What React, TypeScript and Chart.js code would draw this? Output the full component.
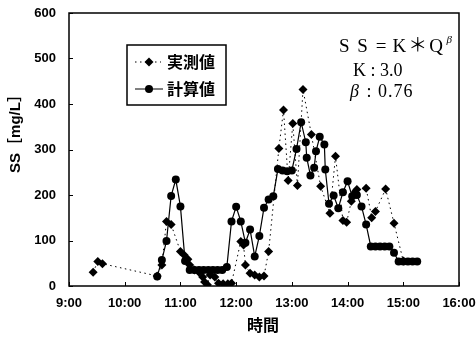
import React, { useEffect, useRef } from "react";
import { Chart, registerables } from "chart.js";

Chart.register(...registerables);

// ---- data ----
const obsTimes = [
  "9:26", "9:31", "9:36", "10:35", "10:40", "10:45", "10:50", "11:00", "11:04", "11:08",
  "11:10", "11:15", "11:20", "11:24", "11:26", "11:29", "11:32", "11:37", "11:41", "11:46",
  "11:51", "11:55", "12:05", "12:08", "12:10", "12:15", "12:20", "12:25", "12:30", "12:35",
  "12:46", "12:51", "12:56", "13:01", "13:06", "13:12", "13:21", "13:31", "13:41", "13:47",
  "13:55", "13:59", "14:04", "14:10", "14:20", "14:26", "14:30", "14:41", "14:50", "15:00",
];
const obsValues = [
  30, 54, 49, 22, 46, 142, 135, 76, 68, 59,
  46, 35, 30, 20, 9, 3, 24, 20, 6, 5,
  5, 6, 98, 90, 46, 28, 24, 20, 22, 76,
  302, 387, 232, 357, 221, 432, 333, 219, 160, 285,
  144, 140, 186, 212, 215, 150, 164, 213, 138, 55,
];

const calcTimes = [
  "10:35", "10:40", "10:45", "10:50", "10:55", "11:00", "11:05", "11:10", "11:15", "11:20",
  "11:25", "11:30", "11:35", "11:40", "11:45", "11:50", "11:55", "12:00", "12:05", "12:10",
  "12:15", "12:20", "12:25", "12:30", "12:35", "12:40", "12:45", "12:50", "12:55", "13:00",
  "13:05", "13:10", "13:15", "13:16", "13:20", "13:24", "13:26", "13:30", "13:35", "13:36",
  "13:40", "13:45", "13:50", "13:55", "14:00", "14:05", "14:08", "14:10", "14:15", "14:20",
  "14:25", "14:30", "14:35", "14:40", "14:45", "14:50", "14:55", "15:00", "15:05", "15:10",
  "15:15",
];
const calcValues = [
  21, 57, 99, 198, 234, 175, 55, 35, 35, 35,
  35, 35, 35, 35, 35, 42, 142, 174, 142, 95,
  124, 65, 110, 172, 190, 197, 257, 254, 252, 254,
  301, 360, 316, 282, 243, 260, 296, 328, 311, 256,
  181, 199, 171, 206, 230, 197, 204, 200, 175, 135,
  87, 87, 87, 87, 87, 73, 54, 54, 54, 54,
  54,
];

const xTickLabels = ["9:00", "10:00", "11:00", "12:00", "13:00", "14:00", "15:00", "16:00"];
const yTickValues = [0, 100, 200, 300, 400, 500, 600];

const seriesNames = ["実測値", "計算値"];
const xTitle = "時間";
const yTitle = "SS［mg/L］";
const formulaMain = "SS=K＊Q";
const formulaSup = "β";
const kLine = "K : 3.0";
const betaSym = "β";
const betaLine = " : 0.76";

const toMin = (t: string) => {
  const [h, m] = t.split(":").map(Number);
  return h * 60 + m;
};

const SANS = "'Liberation Sans', Arial, 'Noto Sans CJK JP', sans-serif";
const SERIF = "'Liberation Serif', 'Times New Roman', 'Noto Sans CJK JP', serif";
const CJK = "'Noto Sans CJK JP', sans-serif";

const overlayPlugin = {
  id: "overlay",
  afterDraw(chart: any) {
    const { ctx, chartArea } = chart;
    const { left, right, top, bottom } = chartArea;
    const xs = chart.scales.x;
    const ys = chart.scales.y;
    ctx.save();
    // frame
    ctx.strokeStyle = "#000";
    ctx.lineWidth = 1.5;
    ctx.strokeRect(left, top, right - left, bottom - top);
    // inward ticks
    ctx.lineWidth = 1;
    ctx.beginPath();
    yTickValues.forEach((v) => {
      const y = Math.round(ys.getPixelForValue(v)) + 0.5;
      ctx.moveTo(left, y);
      ctx.lineTo(left + 4, y);
    });
    xTickLabels.forEach((l) => {
      const x = Math.round(xs.getPixelForValue(toMin(l))) + 0.5;
      ctx.moveTo(x, bottom);
      ctx.lineTo(x, bottom - 4);
    });
    ctx.stroke();

    // legend box
    const lx = left + 58, ly = top + 32, lw = 99, lh = 60;
    ctx.fillStyle = "#fff";
    ctx.fillRect(lx, ly, lw, lh);
    ctx.lineWidth = 1.5;
    ctx.strokeRect(lx, ly, lw, lh);
    const rowY = [ly + 17, ly + 44];
    // entry 1: dotted + diamond
    ctx.lineWidth = 1;
    ctx.setLineDash([1.5, 3.5]);
    ctx.beginPath();
    ctx.moveTo(lx + 8, rowY[0]);
    ctx.lineTo(lx + 34, rowY[0]);
    ctx.stroke();
    ctx.setLineDash([]);
    ctx.fillStyle = "#000";
    const dx = lx + 22, r = 4.5;
    ctx.beginPath();
    ctx.moveTo(dx, rowY[0] - r);
    ctx.lineTo(dx + r, rowY[0]);
    ctx.lineTo(dx, rowY[0] + r);
    ctx.lineTo(dx - r, rowY[0]);
    ctx.closePath();
    ctx.fill();
    // entry 2: solid + circle
    ctx.beginPath();
    ctx.moveTo(lx + 8, rowY[1]);
    ctx.lineTo(lx + 36, rowY[1]);
    ctx.stroke();
    ctx.beginPath();
    ctx.arc(lx + 22, rowY[1], 4, 0, Math.PI * 2);
    ctx.fill();
    ctx.font = `bold 16px ${CJK}`;
    ctx.textBaseline = "middle";
    ctx.textAlign = "left";
    ctx.fillText(seriesNames[0], lx + 40, rowY[0]);
    ctx.fillText(seriesNames[1], lx + 40, rowY[1]);

    // formula annotation
    ctx.textBaseline = "alphabetic";
    ctx.font = `19px ${SERIF}`;
    const chars = Array.from(formulaMain);
    const cell = 18.4;
    let fx = 335;
    chars.forEach((c) => {
      const w = ctx.measureText(c).width;
      ctx.fillText(c, fx + (cell - w) / 2, 52);
      fx += cell;
    });
    ctx.font = `italic 11px ${SERIF}`;
    ctx.fillText(formulaSup, fx + 1, 43);
    ctx.font = `18px ${SERIF}`;
    ctx.fillText(kLine, 353, 76);
    ctx.font = `italic 18px ${SERIF}`;
    ctx.fillText(betaSym, 350, 97);
    ctx.font = `18px ${SERIF}`;
    (ctx as any).letterSpacing = "1px";
    ctx.fillText(betaLine, 361, 97);
    (ctx as any).letterSpacing = "0px";

    // axis titles
    ctx.font = `bold 16px ${CJK}`;
    ctx.textAlign = "center";
    ctx.textBaseline = "middle";
    ctx.fillText(xTitle, 263, 325);
    ctx.save();
    ctx.translate(16, 130);
    ctx.rotate(-Math.PI / 2);
    ctx.font = `bold 15px ${SANS}`;
    ctx.fillText(yTitle, 0, 0);
    ctx.restore();
    ctx.restore();
  },
};

export default function App() {
  const ref = useRef<HTMLCanvasElement | null>(null);
  useEffect(() => {
    document.body.style.margin = "0";
    const obsData = obsTimes.map((t, i) => ({ x: toMin(t), y: obsValues[i] }));
    const calcData = calcTimes.map((t, i) => ({ x: toMin(t), y: calcValues[i] }));
    const chart = new Chart(ref.current as HTMLCanvasElement, {
      type: "line",
      data: {
        datasets: [
          {
            label: seriesNames[0],
            data: obsData,
            borderColor: "#000",
            backgroundColor: "#000",
            borderWidth: 1,
            borderDash: [1.5, 3.5],
            pointStyle: "rectRot",
            pointRadius: 4.5,
            pointBorderWidth: 0,
            tension: 0,
            order: 2,
          },
          {
            label: seriesNames[1],
            data: calcData,
            borderColor: "#000",
            backgroundColor: "#000",
            borderWidth: 1.2,
            pointStyle: "circle",
            pointRadius: 4,
            pointBorderWidth: 0,
            tension: 0,
            order: 1,
          },
        ],
      },
      options: {
        animation: false,
        responsive: false,
        devicePixelRatio: 1,
        layout: { padding: { left: 0, right: 17, top: 13, bottom: 0 } },
        plugins: { legend: { display: false }, tooltip: { enabled: false } },
        scales: {
          x: {
            type: "linear",
            min: toMin(xTickLabels[0]),
            max: toMin(xTickLabels[xTickLabels.length - 1]),
            grid: { display: false, drawTicks: false },
            border: { display: false },
            afterBuildTicks: (s: any) => {
              s.ticks = xTickLabels.map((l) => ({ value: toMin(l) }));
            },
            afterFit: (s: any) => {
              s.height = 53;
              s.paddingLeft = 0;
              s.paddingRight = 0;
            },
            ticks: {
              autoSkip: false,
              maxRotation: 0,
              padding: 10,
              color: "#000",
              font: { family: SANS, size: 13, weight: "bold" },
              callback: (v: any) => {
                const i = xTickLabels.findIndex((l) => toMin(l) === v);
                return i >= 0 ? xTickLabels[i] : "";
              },
            },
          },
          y: {
            min: yTickValues[0],
            max: yTickValues[yTickValues.length - 1],
            grid: { display: false, drawTicks: false },
            border: { display: false },
            afterBuildTicks: (s: any) => {
              s.ticks = yTickValues.map((v) => ({ value: v }));
            },
            afterFit: (s: any) => {
              s.width = 69;
              s.paddingTop = 0;
              s.paddingBottom = 0;
            },
            ticks: {
              padding: 13,
              color: "#000",
              font: { family: SANS, size: 13, weight: "bold" },
            },
          },
        },
      },
      plugins: [overlayPlugin],
    } as any);
    return () => chart.destroy();
  }, []);
  return (
    <div style={{ position: "absolute", left: 0, top: 0, width: 476, height: 339, background: "#fff" }}>
      <canvas ref={ref} width={476} height={339} style={{ width: 476, height: 339 }} />
    </div>
  );
}
